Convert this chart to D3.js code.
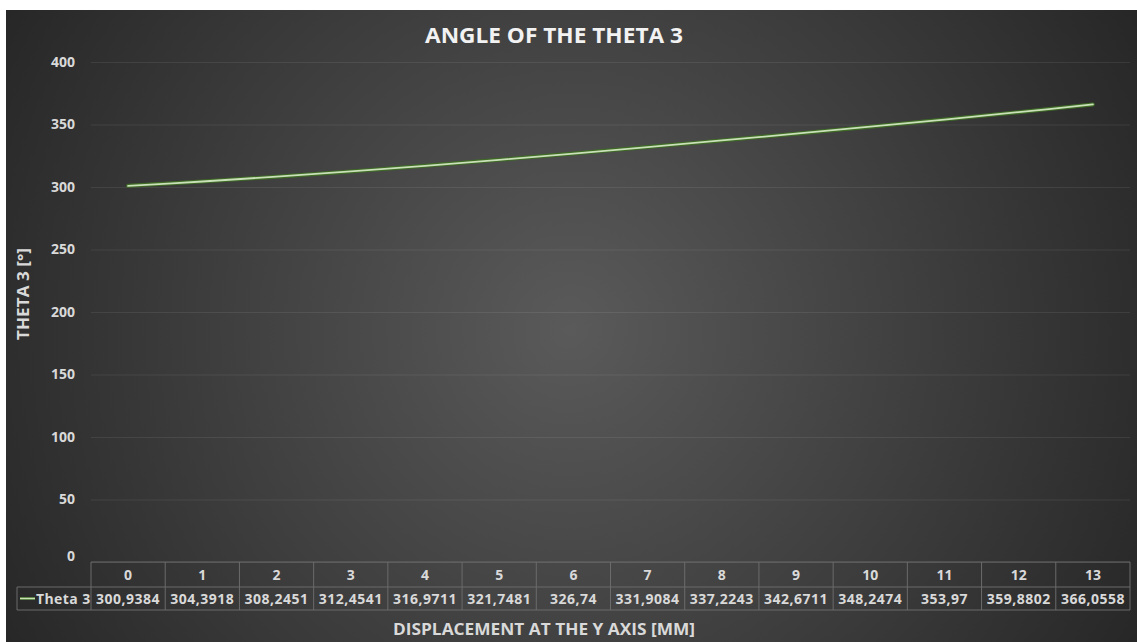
<!DOCTYPE html>
<html><head><meta charset="utf-8">
<script src="https://cdn.jsdelivr.net/npm/d3@7"></script>
<style>
html,body{margin:0;padding:0;background:#fff;}
svg{display:block;font-family:"Open Sans",sans-serif;}
</style></head>
<body>
<svg id="chart" width="1137" height="642"></svg>
<script>
const categories = [0,1,2,3,4,5,6,7,8,9,10,11,12,13];
const theta3 = [300.9384,304.3918,308.2451,312.4541,316.9711,321.7481,326.74,331.9084,337.2243,342.6711,348.2474,353.97,359.8802,366.0558];
const valueLabels = ["300,9384","304,3918","308,2451","312,4541","316,9711","321,7481","326,74","331,9084","337,2243","342,6711","348,2474","353,97","359,8802","366,0558"];
const yTicks = [0,50,100,150,200,250,300,350,400];
const seriesName = "Theta 3";
const chartTitle = "ANGLE OF THE THETA 3";
const xTitle = "DISPLACEMENT AT THE Y AXIS [MM]";
const yTitle = "THETA 3 [°]";

const svg = d3.select("#chart");
const W = 1137, H = 642;
const panel = {x:6, y:10};
const plot = {left:91, right:1130, top:62, bottom:562};

const defs = svg.append("defs");
const rg = defs.append("radialGradient").attr("id","bg").attr("gradientUnits","userSpaceOnUse")
  .attr("cx",570).attr("cy",330).attr("r",660);
rg.append("stop").attr("offset",0).attr("stop-color","#5a5a5a");
rg.append("stop").attr("offset",1).attr("stop-color","#262626");

svg.append("rect").attr("x",panel.x).attr("y",panel.y).attr("width",W-panel.x).attr("height",H-panel.y).attr("fill","url(#bg)");

const x = d3.scaleBand().domain(categories).range([plot.left, plot.right]).padding(0);
const y = d3.scaleLinear().domain([0,400]).range([plot.bottom, plot.top]);

// gridlines
const yAxis = d3.axisLeft(y).tickValues(yTicks).tickSize(-(plot.right-plot.left)).tickPadding(16).tickFormat(d3.format("d"));
const gy = svg.append("g").attr("transform",`translate(${plot.left},0)`).call(yAxis);
gy.select(".domain").remove();
gy.selectAll(".tick line").attr("stroke","#ffffff").attr("stroke-opacity",0.08).attr("stroke-width",1);
gy.selectAll(".tick text").attr("fill","#d9d9d9").attr("font-size",14).attr("font-weight",700).attr("font-family","Open Sans, sans-serif");
gy.selectAll(".tick").filter(d=>d===0).select("text").attr("dy","-0.1em");

// line
const line = d3.line().x((d,i)=>x(categories[i])+x.bandwidth()/2).y(d=>y(d)).curve(d3.curveCatmullRom);
svg.append("path").datum(theta3).attr("d",line).attr("fill","none").attr("stroke","#3f6b26").attr("stroke-width",4).attr("stroke-linecap","round");
svg.append("path").datum(theta3).attr("d",line).attr("fill","none").attr("stroke","#c9e0b8").attr("stroke-width",1.8).attr("stroke-linecap","round");

// data table
const rowTop = plot.bottom, rowMid = 587, rowBot = 610;
const tcol = "#6b6b6b";
const tg = svg.append("g");
tg.append("line").attr("x1",plot.left).attr("x2",plot.right).attr("y1",rowTop).attr("y2",rowTop).attr("stroke",tcol);
tg.append("line").attr("x1",17).attr("x2",plot.right).attr("y1",rowMid).attr("y2",rowMid).attr("stroke",tcol);
tg.append("line").attr("x1",17).attr("x2",plot.right).attr("y1",rowBot).attr("y2",rowBot).attr("stroke",tcol);
tg.append("line").attr("x1",17).attr("x2",17).attr("y1",rowMid).attr("y2",rowBot).attr("stroke",tcol);
categories.forEach((c,i)=>{
  tg.append("line").attr("x1",x(c)).attr("x2",x(c)).attr("y1",rowTop).attr("y2",rowBot).attr("stroke",tcol);
});
tg.append("line").attr("x1",plot.right).attr("x2",plot.right).attr("y1",rowTop).attr("y2",rowBot).attr("stroke",tcol);
tg.selectAll("text.hdr").data(categories).enter().append("text").attr("class","hdr")
  .attr("x",d=>x(d)+x.bandwidth()/2).attr("y",(rowTop+rowMid)/2+5).attr("text-anchor","middle")
  .attr("fill","#d9d9d9").attr("font-size",14).attr("font-weight",700).text(d=>d);
tg.selectAll("text.val").data(categories).enter().append("text").attr("class","val")
  .attr("x",d=>x(d)+x.bandwidth()/2).attr("y",(rowMid+rowBot)/2+5).attr("text-anchor","middle")
  .attr("fill","#d9d9d9").attr("font-size",14).attr("font-weight",700).attr("letter-spacing",0.5).text((d,i)=>valueLabels[i]);
// legend key
tg.append("line").attr("x1",20).attr("x2",35).attr("y1",598.5).attr("y2",598.5).attr("stroke","#3f6b26").attr("stroke-width",3);
tg.append("line").attr("x1",20).attr("x2",35).attr("y1",598.5).attr("y2",598.5).attr("stroke","#c9e0b8").attr("stroke-width",1.5);
tg.append("text").attr("x",36).attr("y",(rowMid+rowBot)/2+5).attr("fill","#d9d9d9").attr("font-size",14).attr("font-weight",700).attr("letter-spacing",0.4).text(seriesName);

// titles
svg.append("text").attr("x",554).attr("y",43).attr("text-anchor","middle").attr("fill","#f2f2f2")
  .attr("font-size",21).attr("font-weight",700).attr("textLength",258).attr("lengthAdjust","spacingAndGlyphs").text(chartTitle);
svg.append("text").attr("x",544).attr("y",635).attr("text-anchor","middle").attr("fill","#d9d9d9")
  .attr("font-size",16).attr("font-weight",700).attr("textLength",302).attr("lengthAdjust","spacingAndGlyphs").text(xTitle);
svg.append("text").attr("transform","translate(29,294) rotate(-90)").attr("text-anchor","middle").attr("fill","#d9d9d9")
  .attr("font-size",16).attr("font-weight",700).attr("textLength",92).attr("lengthAdjust","spacingAndGlyphs").text(yTitle);
</script>
</body></html>
